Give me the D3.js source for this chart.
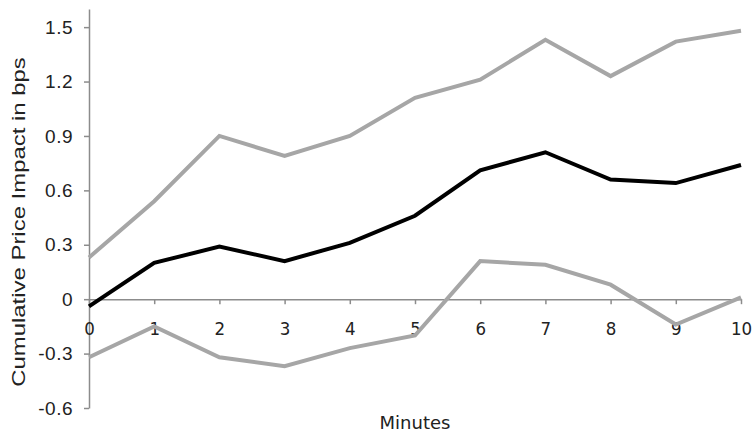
<!DOCTYPE html>
<html><head><meta charset="utf-8">
<script src="https://cdn.jsdelivr.net/npm/d3@7"></script>
<style>body{margin:0;background:#fff}</style>
</head><body>
<svg id="c" width="753" height="433"></svg>
<script>
const minutes = [0,1,2,3,4,5,6,7,8,9,10];
const mean  = [-0.04,0.20,0.29,0.21,0.31,0.46,0.71,0.81,0.66,0.64,0.74];
const upper = [0.23,0.54,0.90,0.79,0.90,1.11,1.21,1.43,1.23,1.42,1.48];
const lower = [-0.32,-0.15,-0.32,-0.37,-0.27,-0.20,0.21,0.19,0.08,-0.14,0.01];
const yTicks = [-0.6,-0.3,0,0.3,0.6,0.9,1.2,1.5];
const yTickLabels = ["-0.6","-0.3","0","0.3","0.6","0.9","1.2","1.5"];

const svg = d3.select("#c");
const x = d3.scaleLinear().domain([0,10]).range([89,741]);
const y = d3.scaleLinear().domain([-0.6,1.6]).range([408,9]);
const axisCol = "#8c8c8c";

// y axis
const ya = svg.append("g").attr("transform","translate(89,0)")
  .call(d3.axisLeft(y).tickValues(yTicks).tickFormat((d,i)=>yTickLabels[i]).tickSize(5).tickSizeOuter(0).tickPadding(11));
ya.select(".domain").attr("stroke",axisCol).attr("stroke-width",1.5);
ya.selectAll(".tick line").attr("stroke",axisCol).attr("stroke-width",1.5);
ya.selectAll(".tick text").attr("fill","#222").attr("font-family","Liberation Sans, Arial, sans-serif").attr("font-size",19).attr("letter-spacing",0.5);

// x axis at zero
const xa = svg.append("g").attr("transform",`translate(0,${y(0)})`)
  .call(d3.axisBottom(x).tickValues(minutes).tickFormat(d3.format("d")).tickSize(5).tickSizeOuter(0).tickPadding(18));
xa.select(".domain").attr("stroke",axisCol).attr("stroke-width",1.5);
xa.selectAll(".tick line").attr("stroke",axisCol).attr("stroke-width",1.5);
xa.selectAll(".tick text").attr("fill","#222").attr("font-family","DejaVu Sans Condensed, DejaVu Sans, sans-serif").attr("font-size",18.5);

const line = d3.line().x((d,i)=>x(minutes[i])).y(d=>y(d));
[[upper,"#a6a6a6"],[lower,"#a6a6a6"],[mean,"#000"]].forEach(([s,c])=>{
  svg.append("path").datum(s).attr("d",line).attr("fill","none")
    .attr("stroke",c).attr("stroke-width",4).attr("stroke-linejoin","miter");
});

svg.append("text").attr("x",415).attr("y",429).attr("text-anchor","middle")
  .attr("font-family","DejaVu Sans, Verdana, sans-serif").attr("font-size",18).attr("fill","#222").text("Minutes");
svg.append("text").attr("transform","translate(25,222) rotate(-90) scale(1.33,1)").attr("text-anchor","middle")
  .attr("font-family","Liberation Sans, Arial, sans-serif").attr("font-size",18).attr("fill","#222")
  .text("Cumulative Price Impact in bps");
</script>
</body></html>
